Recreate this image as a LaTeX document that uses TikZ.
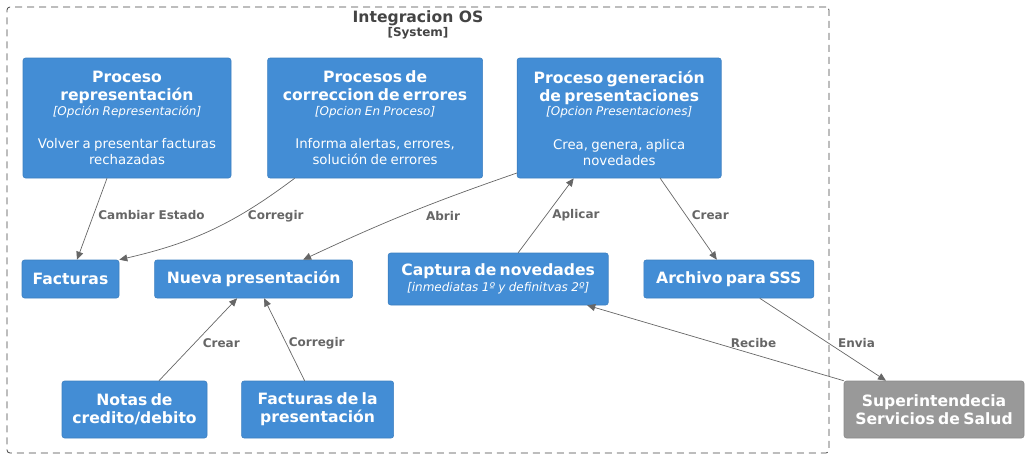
\documentclass[tikz,border=0pt]{standalone}
\usepackage{fontspec}
\setmainfont{DejaVu Sans}
\usepackage{tikz}
\usetikzlibrary{positioning}
\usetikzlibrary{arrows.meta}

\definecolor{c4blue}{HTML}{438DD5}
\definecolor{c4blueline}{HTML}{3C7FC0}
\definecolor{c4grey}{HTML}{999999}
\definecolor{c4greyline}{HTML}{8A8A8A}
\definecolor{c4rel}{HTML}{666666}
\definecolor{c4frame}{HTML}{444444}

\newcommand{\cname}{\fontsize{15.6}{18}\selectfont\bfseries}
\newcommand{\ctech}{\fontsize{12}{14.8}\selectfont\itshape}
\newcommand{\cdesc}{\fontsize{13.3}{16}\selectfont}

\begin{document}
\begin{tikzpicture}[x = 1pt, y = -1pt,
    cont/.style = {rectangle, rounded corners = 2.5pt, fill = c4blue, draw = c4blueline,
      line width = 0.6pt, text = white, align = center, inner sep = 0pt},
    ext/.style = {cont, fill = c4grey, draw = c4greyline},
    frame/.style = {rectangle, rounded corners = 3pt, draw = c4frame, dash pattern = on 7pt off 5pt,
      line width = 0.8pt},
    rel/.style = {-{Triangle[length = 8pt, width = 7pt]}, draw = c4rel, line width = 0.7pt},
    lbl/.style = {font = \fontsize{12}{14}\selectfont\bfseries, text = c4rel, inner sep = 1pt, anchor = west}]
    \useasboundingbox (0,0) rectangle (1029,459);
    % boundary %
    \node[frame, minimum width = 822pt, minimum height = 446pt] (os) at (418,230) {};
    \node[text = c4frame, font = \fontsize{15.6}{18}\selectfont\bfseries] (title) at (418,18) {Integracion OS};
    \node[text = c4frame, font = \fontsize{12}{14}\selectfont\bfseries] (sys) at (418,33) {[System]};
    % nodes %
    \node[cont, minimum width = 208pt, minimum height = 120pt, text width = 208pt] (rep) at (127,118)
      {{\cname Proceso\\representación\par}{\ctech [Opción Representación]\par}\vspace{17.4pt}{\cdesc Volver a presentar facturas\\rechazadas\par}};
    \node[cont, right = 36pt of rep, minimum width = 215pt, minimum height = 120pt, text width = 215pt] (corr)
      {{\cname Procesos de\\correccion de errores\par}{\ctech [Opcion En Proceso]\par}\vspace{17.4pt}{\cdesc Informa alertas, errores,\\solución de errores\par}};
    \node[cont, right = 34pt of corr, minimum width = 204pt, minimum height = 120pt, text width = 204pt] (gen)
      {{\cname Proceso generación\\de presentaciones\par}{\ctech [Opcion Presentaciones]\par}\vspace{17.4pt}{\cdesc Crea, genera, aplica\\novedades\par}};
    \node[cont, minimum width = 97pt, minimum height = 38pt, text width = 97pt] (fac) at (70.5,279)
      {\cname Facturas\par};
    \node[cont, right = 35pt of fac, minimum width = 198pt, minimum height = 38pt, text width = 198pt] (nueva)
      {\cname Nueva presentación\par};
    \node[cont, right = 35pt of nueva, minimum width = 220pt, minimum height = 52pt, text width = 220pt] (cap)
      {{\cname Captura de novedades\par}{\ctech\fontsize{12}{16.5}\selectfont [inmediatas 1º y definitvas 2º]\par}};
    \node[cont, right = 35pt of cap, minimum width = 170pt, minimum height = 38pt, text width = 170pt] (arch)
      {\cname Archivo para SSS\par};
    \node[cont, minimum width = 145pt, minimum height = 57pt, text width = 145pt] (notas) at (134.5,409.5)
      {\cname Notas de\\credito/debito\par};
    \node[cont, right = 34pt of notas, minimum width = 152pt, minimum height = 57pt, text width = 152pt] (factpres)
      {\cname Facturas de la\\presentación\par};
    \node[ext, minimum width = 180pt, minimum height = 57pt, text width = 180pt] (super) at (934,409.5)
      {\cname Superintendecia\\Servicios de Salud\par};
    % edges %
    \draw[rel] ([xshift = -20pt]rep.south) -- node[lbl, pos = .45, xshift = 3.5pt] (l1) {Cambiar Estado} ([xshift = 6.5pt]fac.north);
    \draw[rel] ([xshift = -80.5pt]corr.south) to[bend left = 12] node[lbl, pos = .34, xshift = 9pt] (l2) {Corregir} (fac.north east);
    \draw[rel] ([yshift = -55pt]gen.west) to[bend right = 3] node[lbl, pos = .52, xshift = 20pt, yshift = -1pt] (l3) {Abrir} ([xshift = 49.5pt]nueva.north);
    \draw[rel] ([xshift = 20pt]cap.north) -- node[lbl, pos = .507, xshift = 4.6pt] (l4) {Aplicar} ([xshift = -45.5pt]gen.south);
    \draw[rel] ([xshift = 41pt]gen.south) -- node[lbl, pos = .45, xshift = 4.8pt] (l5) {Crear} ([xshift = -12pt]arch.north);
    \draw[rel] ([xshift = 24.5pt]notas.north) -- node[lbl, pos = .458, xshift = 6.7pt] (l6) {Crear} ([xshift = -16.5pt]nueva.south);
    \draw[rel] ([xshift = -13pt]factpres.north) -- node[lbl, pos = .458, xshift = 1.5pt] (l7) {Corregir} ([xshift = 10.5pt]nueva.south);
    \draw[rel] (super.north west) -- node[lbl, pos = .5, xshift = 14pt] (l8) {Recibe} ([xshift = 89pt]cap.south);
    \draw[rel] ([xshift = 31pt]arch.south) -- node[lbl, pos = .542, xshift = 8.6pt] (l9) {Envia} ([xshift = -48pt]super.north);
\end{tikzpicture}
\end{document}
